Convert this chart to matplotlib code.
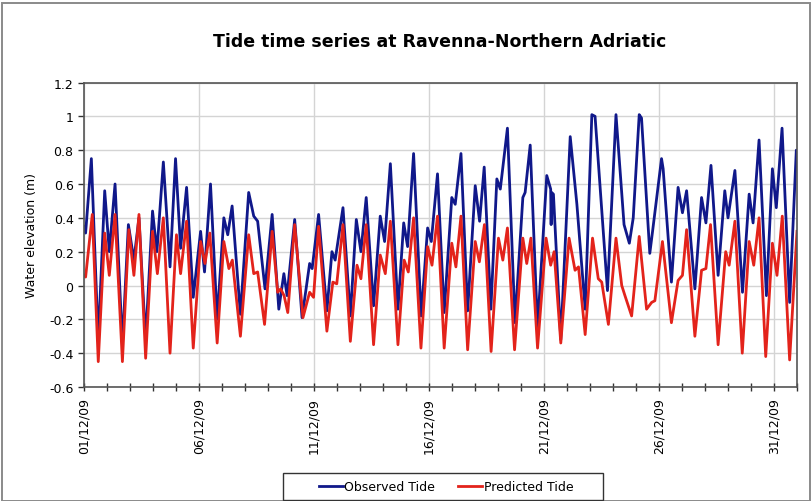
import matplotlib
matplotlib.use("Agg")
import matplotlib.pyplot as plt
from matplotlib.ticker import MultipleLocator, FixedLocator, FuncFormatter
from matplotlib.patches import Rectangle

plt.rcParams["axes.unicode_minus"] = False
plt.rcParams["font.family"] = ["DejaVu Sans"]

# ---- data (days since 01/12/2009 00:00, water elevation in m) ----
obs_days = [0.00, 0.07, 0.32, 0.62, 0.90, 1.10, 1.35, 1.67, 1.93, 2.17, 2.39, 2.68, 2.98, 3.17,
            3.45, 3.74, 3.98, 4.20, 4.46, 4.75, 5.07, 5.24, 5.50, 5.79, 6.08, 6.25, 6.44, 6.80,
            7.16, 7.38, 7.55, 7.87, 8.18, 8.47, 8.69, 8.83, 9.16, 9.48, 9.81, 9.92, 10.20, 10.56,
            10.78, 10.92, 11.26, 11.58, 11.84, 12.04, 12.27, 12.59, 12.88, 13.07, 13.32, 13.65,
            13.90, 14.07, 14.33, 14.66, 14.94, 15.10, 15.37, 15.66, 15.99, 16.14, 16.39, 16.68,
            17.01, 17.20, 17.40, 17.69, 17.95, 18.10, 18.41, 18.74, 19.08, 19.18, 19.40, 19.72,
            20.12, 20.29, 20.31, 20.33, 20.41, 20.73, 21.14, 21.43, 21.79, 22.08, 22.22, 22.76,
            23.13, 23.48, 23.71, 23.88, 24.14, 24.24, 24.60, 24.72, 25.11, 25.18, 25.54, 25.83,
            26.02, 26.20, 26.56, 26.85, 27.04, 27.26, 27.57, 27.86, 28.00, 28.30, 28.63, 28.92,
            29.09, 29.35, 29.67, 29.93, 30.10, 30.35, 30.68, 30.97, 31.00]
obs_vals = [0.35, 0.31, 0.75, -0.33, 0.56, 0.20, 0.60, -0.35, 0.36, 0.15, 0.40, -0.32, 0.44, 0.20,
            0.73, 0.11, 0.75, 0.22, 0.58, -0.07, 0.32, 0.08, 0.60, -0.20, 0.40, 0.30, 0.47, -0.17,
            0.55, 0.41, 0.38, -0.02, 0.42, -0.14, 0.07, -0.06, 0.39, -0.19, 0.13, 0.10, 0.42, -0.15,
            0.20, 0.15, 0.46, -0.18, 0.39, 0.20, 0.52, -0.12, 0.41, 0.26, 0.72, -0.14,
            0.37, 0.23, 0.78, -0.18, 0.34, 0.26, 0.66, -0.16, 0.52, 0.48, 0.78, -0.15,
            0.59, 0.38, 0.70, -0.14, 0.63, 0.57, 0.93, -0.22, 0.52, 0.55, 0.83, -0.25,
            0.65, 0.57, 0.36, 0.55, 0.54, -0.32, 0.88, 0.48, -0.14, 1.01, 1.00, -0.03,
            1.01, 0.36, 0.25, 0.40, 1.01, 0.99, 0.19, 0.32, 0.75, 0.69, 0.02, 0.58,
            0.43, 0.56, -0.02, 0.52, 0.37, 0.71, 0.06, 0.56, 0.40, 0.68, -0.04, 0.54,
            0.37, 0.86, -0.06, 0.69, 0.46, 0.93, -0.10, 0.80, 0.79]

pred_days = [0.00, 0.07, 0.36, 0.62, 0.90, 1.10, 1.35, 1.67, 1.95, 2.17, 2.39, 2.68, 2.98, 3.19,
             3.45, 3.74, 4.02, 4.20, 4.46, 4.75, 5.07, 5.26, 5.47, 5.79, 6.08, 6.30, 6.45, 6.80,
             7.16, 7.38, 7.55, 7.85, 8.18, 8.42, 8.55, 8.70, 8.86, 9.16, 9.52, 9.81, 9.98, 10.20,
             10.56, 10.82, 10.99, 11.26, 11.58, 11.87, 12.04, 12.27, 12.59, 12.88, 13.10, 13.32,
             13.65, 13.92, 14.10, 14.33, 14.65, 14.94, 15.13, 15.37, 15.66, 15.99, 16.17, 16.39,
             16.68, 17.01, 17.19, 17.41, 17.70, 18.02, 18.21, 18.41, 18.72, 19.08, 19.25, 19.43,
             19.72, 20.09, 20.29, 20.44, 20.73, 21.09, 21.35, 21.50, 21.79, 22.11, 22.36, 22.51,
             22.80, 23.13, 23.38, 23.52, 23.81, 24.14, 24.46, 24.68, 24.82, 25.15, 25.54, 25.83,
             26.02, 26.20, 26.56, 26.85, 27.04, 27.24, 27.57, 27.90, 28.05, 28.30, 28.62, 28.92,
             29.12, 29.35, 29.64, 29.93, 30.13, 30.36, 30.68, 31.00]
pred_vals = [0.06, 0.05, 0.42, -0.45, 0.31, 0.06, 0.42, -0.45, 0.33, 0.06, 0.42, -0.43, 0.32, 0.07,
             0.40, -0.40, 0.30, 0.07, 0.38, -0.37, 0.26, 0.13, 0.31, -0.34, 0.26, 0.10, 0.15, -0.30,
             0.30, 0.07, 0.08, -0.23, 0.32, -0.04, -0.02, -0.06, -0.16, 0.36, -0.19, -0.04, -0.07, 0.35,
             -0.27, 0.02, 0.01, 0.36, -0.33, 0.12, 0.04, 0.36, -0.35, 0.18, 0.07, 0.38,
             -0.35, 0.15, 0.08, 0.40, -0.37, 0.23, 0.12, 0.41, -0.37, 0.25, 0.11, 0.41,
             -0.38, 0.26, 0.14, 0.36, -0.39, 0.28, 0.15, 0.34, -0.38, 0.28, 0.13, 0.28,
             -0.37, 0.28, 0.12, 0.20, -0.34, 0.28, 0.09, 0.11, -0.29, 0.28, 0.04, 0.02,
             -0.23, 0.28, 0.00, -0.06, -0.18, 0.29, -0.14, -0.10, -0.09, 0.26, -0.22, 0.03,
             0.06, 0.33, -0.30, 0.09, 0.10, 0.36, -0.35, 0.20, 0.12, 0.38, -0.40, 0.26,
             0.12, 0.40, -0.42, 0.25, 0.06, 0.41, -0.44, 0.32]

tick_days = [0, 5, 10, 15, 20, 25, 30]
tick_labels = ["01/12/09", "06/12/09", "11/12/09", "16/12/09", "21/12/09", "26/12/09", "31/12/09"]
series_names = ["Observed Tide", "Predicted Tide"]

title = "Tide time series at Ravenna-Northern Adriatic"
ylabel = "Water elevation (m)"

# ---- figure ----
W, H = 812, 502
fig = plt.figure(figsize=(W / 100, H / 100), dpi=100)
fig.patches.append(Rectangle((2 / W, 0.0), 1 - 4 / W, 1 - 4 / H, transform=fig.transFigure,
                             fill=False, edgecolor="#8a8a8a", linewidth=1.4))
ax = fig.add_axes([84 / W, 1 - 388 / H, (797 - 84) / W, (388 - 83.5) / H])

blue = "#10188a"
red = "#e3231b"
l1, = ax.plot(obs_days, obs_vals, color=blue, lw=2.0, solid_joinstyle="round", label=series_names[0])
l2, = ax.plot(pred_days, pred_vals, color=red, lw=2.0, solid_joinstyle="round", label=series_names[1])

ax.set_xlim(0, 31)
ax.set_ylim(-0.6, 1.2)
ax.yaxis.set_major_locator(MultipleLocator(0.2))
ax.yaxis.set_major_formatter(FuncFormatter(lambda v, p: "0" if abs(v) < 1e-9 else "%g" % round(v, 2)))
ax.xaxis.set_major_locator(FixedLocator(tick_days))
ax.set_xticklabels(tick_labels, rotation=90)
ax.xaxis.set_minor_locator(MultipleLocator(1))

ax.grid(True, which="major", color="#d4d4d4", lw=1.0)
ax.set_axisbelow(True)
for s in ax.spines.values():
    s.set_color("#555555")
    s.set_linewidth(1.2)

ax.tick_params(axis="x", which="both", direction="inout", length=6, width=1, color="#333333",
               labelsize=9, pad=4)
ax.tick_params(axis="y", which="major", direction="out", length=4, width=1, color="#333333",
               labelsize=9)

ax.set_ylabel(ylabel, fontsize=9, labelpad=8)
fig.text(440 / W, 1 - 42 / H, title, ha="center", va="center", fontsize=12.5, fontweight="bold")

# legend box (Excel-style) and entries
fig.patches.append(Rectangle((283 / W, 1 - 501 / H), 320 / W, 27 / H, transform=fig.transFigure,
                             fill=False, edgecolor="#333333", linewidth=1.0))
leg = fig.legend(handles=[l1, l2], loc="center", bbox_to_anchor=(446 / W, 1 - 488 / H), ncol=2,
                 frameon=False, fontsize=9, handlelength=1.9, handletextpad=0.15,
                 columnspacing=1.8, borderpad=0.2)

fig.savefig("out.png", dpi=100)
